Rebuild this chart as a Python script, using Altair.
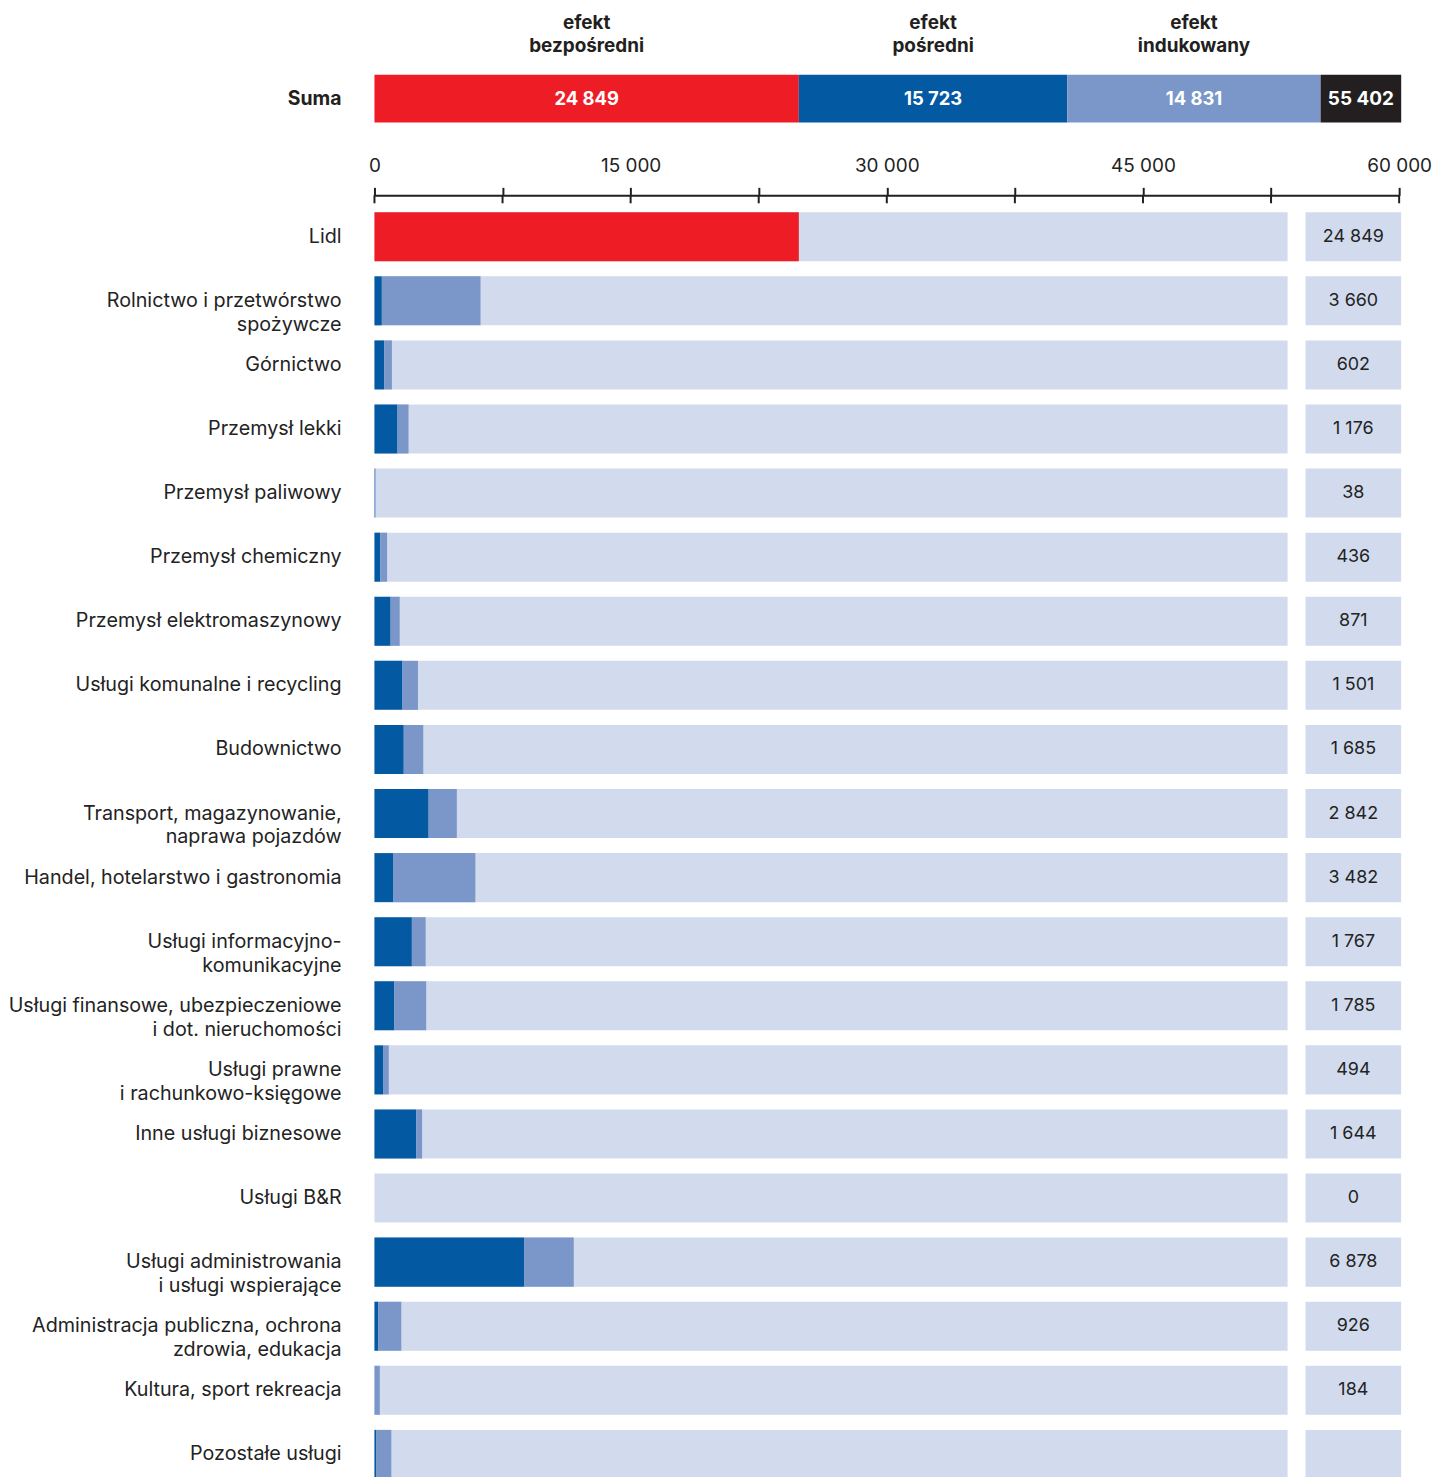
import altair as alt
import pandas as pd

FONT = "Inter"
TXT = "#232323"
RED = "#ee1d25"
DARK = "#0459a3"
LIGHT = "#7b97c9"
BG = "#d2dbed"
BLACK = "#231f20"

# ---- data -------------------------------------------------------------
effect_names = ["efekt\nbezpośredni", "efekt\npośredni", "efekt\nindukowany"]
effect_values = [24849, 15723, 14831]
effect_colors = [RED, DARK, LIGHT]
grand_total = 55402

sectors = [
    "Lidl",
    "Rolnictwo i przetwórstwo\nspożywcze",
    "Górnictwo",
    "Przemysł lekki",
    "Przemysł paliwowy",
    "Przemysł chemiczny",
    "Przemysł elektromaszynowy",
    "Usługi komunalne i recycling",
    "Budownictwo",
    "Transport, magazynowanie,\nnaprawa pojazdów",
    "Handel, hotelarstwo i gastronomia",
    "Usługi informacyjno-\nkomunikacyjne",
    "Usługi finansowe, ubezpieczeniowe\ni dot. nieruchomości",
    "Usługi prawne\ni rachunkowo-księgowe",
    "Inne usługi biznesowe",
    "Usługi B&R",
    "Usługi administrowania\ni usługi wspierające",
    "Administracja publiczna, ochrona\nzdrowia, edukacja",
    "Kultura, sport rekreacja",
    "Pozostałe usługi",
]
direct = [24849, 0, 0, 0, 0, 0, 0, 0, 0, 0, 0, 0, 0, 0, 0, 0, 0, 0, 0, 0]
indirect = [0, 255, 334, 796, 13, 201, 557, 965, 1011, 1869, 641, 1291, 687, 296, 1443, 0, 5164, 132, 0, 68]
induced = [0, 3405, 268, 380, 25, 235, 314, 536, 674, 973, 2841, 476, 1098, 198, 201, 0, 1714, 794, 184, 514]
value_labels = ["24 849", "3 660", "602", "1 176", "38", "436", "871", "1 501", "1 685", "2 842",
                "3 482", "1 767", "1 785", "494", "1 644", "0", "6 878", "926", "184", ""]

axis_ticks = [0, 7500, 15000, 22500, 30000, 37500, 45000, 52500, 60000]
AXIS_MAX = 60000
SECTOR_MAX = 35360
BOX_END = 60120

W = 1029
TOP_H = 48
BOT_H = 1272


def fmt(v):
    return f"{v:,}".replace(",", " ")


# ---- top (Suma) -------------------------------------------------------
top_df = pd.DataFrame({"effect": effect_names, "value": effect_values, "color": effect_colors})
top_df["end"] = top_df["value"].cumsum()
top_df["start"] = top_df["end"] - top_df["value"]
top_df["mid"] = (top_df["start"] + top_df["end"]) / 2
top_df["label"] = top_df["value"].map(fmt)

tot_df = pd.DataFrame({"total": [grand_total], "label": [fmt(grand_total)],
                       "mid": [(grand_total + BOX_END) / 2], "end": [BOX_END]})

xs_top = alt.Scale(domain=[0, AXIS_MAX], nice=False, zero=True)

anchor_top = alt.Chart(pd.DataFrame({"a": [0]})).mark_rect(color="white", opacity=0).encode(
    x=alt.value(-367), x2=alt.value(0), y=alt.value(-64), y2=alt.value(0))

segs = alt.Chart(top_df).mark_rect().encode(
    x=alt.X("start:Q", scale=xs_top, axis=None), x2="end:Q",
    y=alt.value(0), y2=alt.value(TOP_H),
    color=alt.Color("color:N", scale=None))
seg_text = alt.Chart(top_df).mark_text(
    color="white", fontWeight="bold", fontSize=18.5, font=FONT, baseline="middle").encode(
    x=alt.X("mid:Q", scale=xs_top), y=alt.value(TOP_H / 2), text="label:N")
head_text = alt.Chart(top_df).mark_text(
    color=BLACK, fontWeight="bold", fontSize=19, font=FONT, lineBreak="\n", lineHeight=23,
    baseline="alphabetic").encode(
    x=alt.X("mid:Q", scale=xs_top), y=alt.value(-46), text="effect:N")
tot_box = alt.Chart(tot_df).mark_rect(color=BLACK).encode(
    x=alt.X("total:Q", scale=xs_top), x2="end:Q", y=alt.value(0), y2=alt.value(TOP_H))
tot_text = alt.Chart(tot_df).mark_text(
    color="white", fontWeight="bold", fontSize=19, font=FONT, baseline="middle").encode(
    x=alt.X("mid:Q", scale=xs_top), y=alt.value(TOP_H / 2), text="label:N")
suma = alt.Chart(pd.DataFrame({"t": ["Suma"]})).mark_text(
    color=BLACK, fontWeight="bold", fontSize=19.5, font=FONT, align="right", baseline="middle").encode(
    x=alt.value(-33), y=alt.value(TOP_H / 2), text="t:N")

top = alt.layer(anchor_top, segs, tot_box, seg_text, tot_text, head_text, suma).properties(
    width=W, height=TOP_H)

# ---- bottom (sectors) ---------------------------------------------------
rows = pd.DataFrame({
    "idx": list(range(len(sectors))),
    "name": sectors,
    "direct": direct,
    "indirect": indirect,
    "induced": induced,
    "label": value_labels,
})
rows["sec_end"] = rows["indirect"] + rows["induced"]

Y = alt.Y("idx:O", axis=None, scale=alt.Scale(paddingInner=0.235, paddingOuter=0))
xs_axis = alt.Scale(domain=[0, AXIS_MAX], nice=False, zero=True)
xs_sec = alt.Scale(domain=[0, SECTOR_MAX], nice=False, zero=True)

base = alt.Chart(rows)

anchor_bot = alt.Chart(pd.DataFrame({"a": [0]})).mark_rect(color="white", opacity=0).encode(
    x=alt.value(-367), x2=alt.value(0), y=alt.value(-90), y2=alt.value(0))

bg = base.mark_rect(color=BG).encode(y=Y, x=alt.value(0), x2=alt.value(917))

red = base.transform_filter("datum.direct > 0").mark_bar(color=RED).encode(
    y=Y,
    x=alt.X("direct:Q", scale=xs_axis, axis=alt.Axis(
        orient="top", offset=17, values=axis_ticks, tickSize=8, tickWidth=2, tickColor=BLACK,
        domainColor=BLACK, domainWidth=2, grid=False, title=None, labelPadding=11.5,
        labelFont=FONT, labelFontSize=19, labelColor=TXT, labelAngle=0, zindex=1,
        labelExpr="datum.value % 15000 == 0 ? replace(format(datum.value, ','), ',', ' ') : ''",
        labelOverlap=False, labelFlush=False)))

dark = base.transform_filter("datum.idx > 0").mark_bar(color=DARK).encode(
    y=Y, x=alt.X("indirect:Q", scale=xs_sec, axis=None))
light = base.transform_filter("datum.idx > 0").mark_rect(color=LIGHT).encode(
    y=Y, x=alt.X("indirect:Q", scale=xs_sec, axis=None), x2="sec_end:Q")

ticks_low = alt.Chart(pd.DataFrame({"v": axis_ticks})).mark_rule(color=BLACK, strokeWidth=2).encode(
    x=alt.X("v:Q", scale=xs_axis, axis=None), y=alt.value(-17), y2=alt.value(-9))

boxes = base.mark_rect(color=BG).encode(y=Y, x=alt.value(935), x2=alt.value(1031))
box_text = base.mark_text(fontSize=18, font=FONT, color=TXT, baseline="middle").encode(
    y=Y, x=alt.value(983), text="label:N")
names = base.mark_text(fontSize=19.8, font=FONT, color=TXT, align="right", baseline="middle",
                       lineBreak="\n", lineHeight=24).encode(
    y=Y, x=alt.value(-33), text="name:N")

bottom = alt.layer(anchor_bot, bg, red, dark, light, ticks_low, boxes, box_text, names).resolve_scale(
    x="independent").properties(width=W, height=BOT_H)

chart = alt.vconcat(top, bottom, spacing=0).properties(
    padding={"left": 0, "top": 0, "right": 0, "bottom": 0}
).configure_view(stroke=None)

chart.save("out.html", embed_options={"renderer": "svg", "actions": False})
